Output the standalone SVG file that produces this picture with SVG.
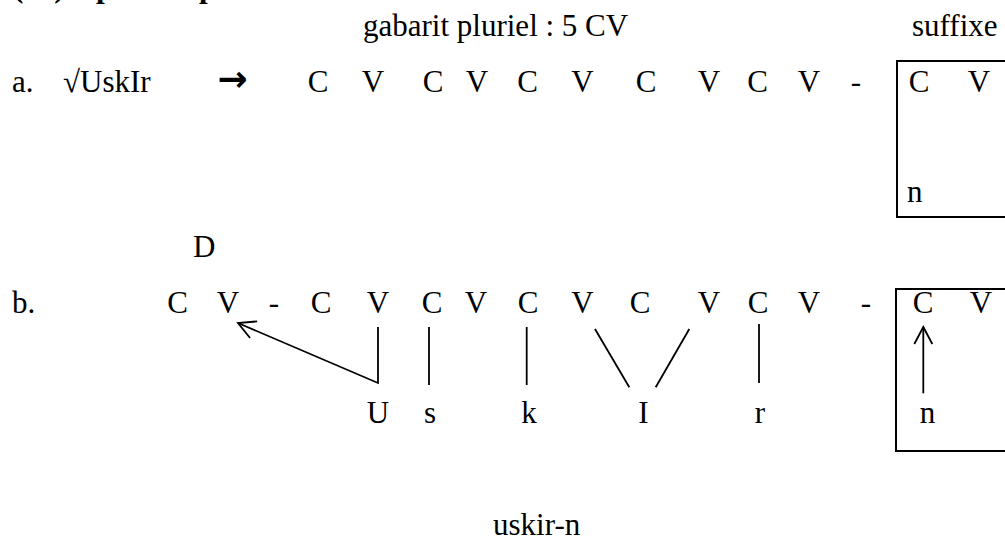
<svg xmlns="http://www.w3.org/2000/svg" width="1005" height="540" viewBox="0 0 1005 540">
<defs>
<style>
text{font-family:"Liberation Serif","Times New Roman",serif;font-size:31px;fill:#000}
.c{text-anchor:middle}
.t{font-weight:bold}
.ln{stroke:#000;stroke-width:1.8;fill:none}
.box{stroke:#000;stroke-width:2;fill:none}
</style>
<marker id="ah" markerUnits="userSpaceOnUse" markerWidth="22" markerHeight="22" refX="18" refY="10" orient="auto">
<path d="M1,1 L18,10 L1,19" fill="none" stroke="#000" stroke-width="1.8"/>
</marker>
</defs>
<g id="title">
<text class="t" y="-3.5"><tspan x="13">(12)</tspan><tspan x="96">pluriel</tspan><tspan x="199">possessif</tspan></text>
</g>
<g id="header">
<text x="363" y="36">gabarit pluriel : 5 CV</text>
<text x="912" y="36">suffixe</text>
</g>
<g id="row-a">
<text x="12" y="92">a.</text>
<text x="63" y="92">√UskIr</text>
<text class="c" x="232.5" y="91" style="font-family:'DejaVu Sans',sans-serif;font-size:36px;font-weight:bold">→</text>
<text class="c" x="318" y="92">C</text>
<text class="c" x="373" y="92">V</text>
<text class="c" x="433" y="92">C</text>
<text class="c" x="477" y="92">V</text>
<text class="c" x="527.5" y="92">C</text>
<text class="c" x="582.5" y="92">V</text>
<text class="c" x="646" y="92">C</text>
<text class="c" x="709" y="92">V</text>
<text class="c" x="757.5" y="92">C</text>
<text class="c" x="809" y="92">V</text>
<text class="c" x="856" y="92">-</text>
</g>
<g id="suffix-a">
<path class="box" d="M1010,61 H897 V217 H1010"/>
<text class="c" x="919" y="92">C</text>
<text class="c" x="979" y="92">V</text>
<text x="907" y="202">n</text>
</g>
<g id="row-b">
<text x="193" y="257">D</text>
<text x="12" y="313">b.</text>
<text class="c" x="177.5" y="313">C</text>
<text class="c" x="228" y="313">V</text>
<text class="c" x="274" y="313">-</text>
<text class="c" x="321" y="313">C</text>
<text class="c" x="378" y="313">V</text>
<text class="c" x="432" y="313">C</text>
<text class="c" x="476" y="313">V</text>
<text class="c" x="528" y="313">C</text>
<text class="c" x="582.5" y="313">V</text>
<text class="c" x="640" y="313">C</text>
<text class="c" x="709" y="313">V</text>
<text class="c" x="758" y="313">C</text>
<text class="c" x="809" y="313">V</text>
<text class="c" x="866" y="313">-</text>
</g>
<g id="melody">
<text class="c" x="378" y="423">U</text>
<text class="c" x="430" y="423">s</text>
<text class="c" x="529" y="423">k</text>
<text class="c" x="643.5" y="423">I</text>
<text class="c" x="760" y="423">r</text>
</g>
<g id="suffix-b">
<path class="box" d="M1010,289 H896 V451 H1010"/>
<text class="c" x="923" y="313">C</text>
<text class="c" x="981" y="313">V</text>
<text class="c" x="927.5" y="423">n</text>
</g>
<g id="connectors">
<polyline class="ln" points="378,327 378,383 238,323" marker-end="url(#ah)"/>
<line class="ln" x1="429" y1="327" x2="429" y2="385"/>
<line class="ln" x1="526.7" y1="327" x2="526.7" y2="385"/>
<line class="ln" x1="595" y1="329" x2="629.3" y2="387.3"/>
<line class="ln" x1="689.3" y1="329" x2="655.7" y2="387.3"/>
<line class="ln" x1="759" y1="324" x2="759" y2="383"/>
<line class="ln" x1="923.3" y1="393.3" x2="923.3" y2="327" marker-end="url(#ah)"/>
</g>
<g id="result">
<text x="493" y="535">uskir-n</text>
</g>
</svg>
